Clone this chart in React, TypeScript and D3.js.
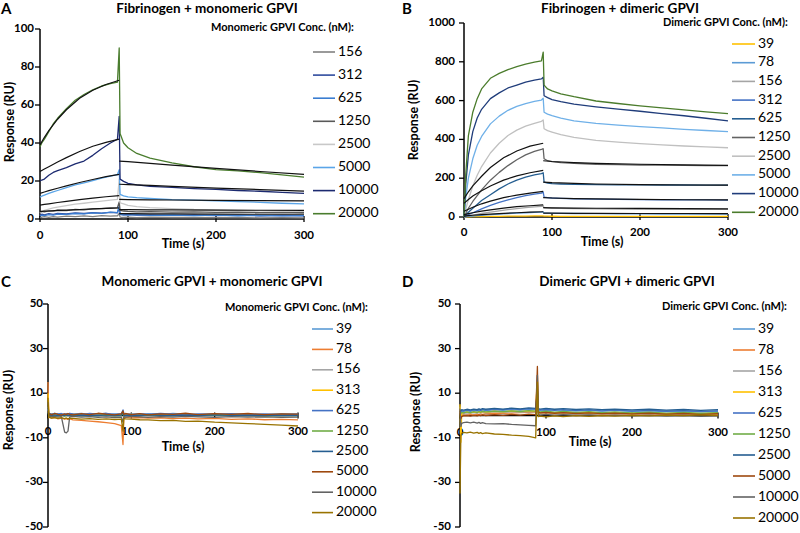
import React from "react";
import * as d3 from "d3";

// ---------- shared time grids (s) ----------
const TA = [0, 2, 5, 10, 15, 20, 30, 40, 50, 60, 70, 80, 88, 90, 91, 95, 100, 110, 125, 150, 175, 200, 225, 250, 275, 300];
const TFa = [0, 5, 10, 20, 30, 45, 60, 75, 90];
const TFd = [90, 100, 125, 150, 200, 250, 300];
const T2 = [0, 1, 2, 4, 8, 12, 16, 20, 22, 24, 26, 30, 40, 50, 60, 70, 80, 88, 90, 91, 93, 100, 110, 120, 135, 150, 165, 180, 200, 220, 240, 260, 280, 300];
const xTicks = [0, 100, 200, 300];

// ---------- Panel A: Fibrinogen + monomeric GPVI ----------
const concA = ["156", "312", "625", "1250", "2500", "5000", "10000", "20000"];
const colA = ["#808080", "#2f4b9e", "#3a7dd1", "#595959", "#c8c8c8", "#5aa5e8", "#1c2a70", "#4a7d2e"];
const a156 = [0.5, 1, 1.2, 0.8, 1.3, 1, 1.5, 1.2, 1.6, 1.3, 1.8, 1.5, 1.7, 3, 1, 0.8, 1, 0.7, 1, 0.8, 0.9, 0.7, 0.8, 0.6, 0.7, 0.6];
const a312 = [2, 2.5, 2.2, 2.8, 2.4, 3, 2.7, 3.2, 2.9, 3.4, 3.1, 3.5, 3.3, 6, 2.5, 2.2, 2.4, 2, 2.2, 1.9, 2.1, 1.8, 2, 1.7, 1.9, 1.7];
const a625 = [1.5, 2, 1.8, 2.3, 2, 2.6, 2.4, 2.9, 2.7, 3.2, 3, 3.6, 3.4, 7, 2.5, 2.2, 2, 2.3, 1.9, 2.1, 1.8, 2, 1.7, 1.9, 1.6, 1.8];
const a1250 = [3.5, 4, 3.8, 4.3, 4.1, 4.6, 4.4, 5, 4.8, 5.3, 5.5, 5.8, 6, 9, 4.5, 4.2, 4, 3.8, 3.9, 3.6, 3.7, 3.5, 3.6, 3.4, 3.5, 3.3];
const a2500 = [3, 4, 4.5, 5.2, 5.8, 6.3, 7, 7.8, 8.3, 8.9, 9.4, 9.9, 10.3, 21, 8.5, 8, 7.2, 6.5, 6, 5.5, 5, 4.8, 4.5, 4.3, 4.1, 4];
const a5000 = [11.5, 12, 12.6, 13.5, 14.3, 15, 16.5, 17.9, 19, 20.2, 21.5, 22.6, 23.4, 26, 13, 12.2, 11.6, 11.2, 10.8, 10.2, 9.9, 9.5, 9.1, 8.8, 8.3, 8];
const a10000 = [20, 20.5, 21, 23, 24.5, 25.5, 27, 29, 30.5, 33.5, 37, 40, 42, 54, 21, 19.8, 18.8, 18, 17.2, 16.6, 16, 15.6, 15, 14.6, 14, 13.5];
const a20000 = [38, 40, 42, 46, 50, 53, 58, 62.5, 65.5, 68, 70, 71.2, 72, 90, 45, 40, 37.5, 34.5, 32, 29.5, 27.5, 26, 25.3, 24.4, 23.2, 22];
const fitA_assoc = [
  [39, 43, 46.5, 52.5, 57.5, 63.5, 67.8, 70.8, 73],
  [25, 26.3, 27.5, 30, 32.3, 35.5, 38.3, 40.3, 42],
  [13.5, 14.2, 14.9, 16.2, 17.4, 19.2, 20.8, 22.3, 23.5],
  [7.3, 7.7, 8, 8.7, 9.3, 10.2, 11, 11.7, 12.3],
  [3.9, 4.1, 4.2, 4.5, 4.7, 5, 5.3, 5.6, 5.8],
];
const fitA_dissoc = [
  [30.5, 30.2, 29.3, 28.4, 26.6, 25, 23.5],
  [18.3, 18.1, 17.7, 17.2, 16.3, 15.5, 14.7],
  [10.3, 10.2, 10.1, 10, 9.8, 9.7, 9.5],
  [4.9, 4.9, 4.8, 4.8, 4.7, 4.6, 4.5],
  [2.8, 2.8, 2.7, 2.7, 2.6, 2.5, 2.5],
];

// ---------- Panel B: Fibrinogen + dimeric GPVI ----------
const concB = ["39", "78", "156", "312", "625", "1250", "2500", "5000", "10000", "20000"];
const colB = ["#ffc000", "#5b9bd5", "#a5a5a5", "#4472c4", "#255e91", "#636363", "#c0c0c0", "#6fb0e8", "#1f3c7a", "#4b7c2c"];
const b39 = [0, 0.5, 1, 1.5, 2, 2.5, 3, 3.5, 4, 4.5, 5, 5.3, 5.5, 6, 4, 4, 3.8, 3.7, 3.6, 3.5, 3.4, 3.3, 3.3, 3.2, 3.2, 3.1];
const b78 = [0, 1, 3, 5, 7, 9, 12, 15, 18, 20, 22, 24, 25, 27, 20, 19.5, 19, 18.5, 18, 17, 16.5, 16, 15.5, 15.2, 15, 14.8];
const b156 = [0, 3, 6, 10, 14, 18, 25, 32, 38, 43, 48, 52, 55, 58, 47, 46, 45, 44, 43, 42, 41, 40, 40, 39, 39, 39];
const b312 = [0, 5, 12, 22, 32, 42, 60, 75, 88, 100, 110, 118, 123, 128, 102, 100, 98, 96, 94, 92, 91, 90, 89, 88, 88, 87];
const b625 = [0, 10, 25, 45, 65, 85, 115, 145, 170, 190, 205, 217, 224, 228, 180, 175, 172, 170, 168, 167, 166, 166, 165, 165, 164, 164];
const b1250 = [0, 20, 45, 80, 110, 140, 190, 230, 265, 295, 320, 338, 348, 352, 300, 290, 285, 280, 277, 272, 270, 268, 267, 266, 265, 265];
const b2500 = [0, 40, 90, 160, 215, 260, 330, 380, 420, 448, 468, 483, 493, 500, 455, 445, 438, 425, 410, 395, 386, 378, 372, 366, 361, 357];
const b5000 = [0, 100, 200, 300, 370, 415, 480, 520, 550, 570, 585, 596, 603, 612, 540, 530, 522, 510, 496, 483, 474, 466, 459, 452, 446, 440];
const b10000 = [0, 170, 320, 440, 510, 555, 610, 640, 665, 680, 695, 705, 712, 720, 625, 615, 605, 595, 582, 568, 556, 545, 533, 522, 509, 496];
const b20000 = [0, 220, 420, 540, 610, 660, 715, 740, 760, 775, 788, 798, 805, 850, 680, 660, 650, 635, 620, 598, 585, 573, 562, 552, 542, 533];
const fitB_assoc = [
  [95, 130, 160, 210, 255, 305, 340, 365, 380],
  [70, 90, 108, 135, 160, 190, 212, 228, 240],
  [30, 40, 50, 68, 82, 100, 113, 123, 132],
  [12, 17, 22, 30, 37, 46, 53, 58, 62],
  [5, 7, 9, 12, 15, 19, 22, 25, 27],
];
const fitB_dissoc = [
  [290, 286, 280, 276, 272, 269, 266],
  [180, 177, 173, 170, 167, 165, 164],
  [100, 98, 95, 93, 91, 89, 88],
  [48, 47, 46, 45, 44, 43, 42],
  [20, 20, 19, 19, 18, 18, 17],
];

// ---------- Panels C & D (Excel palette) ----------
const concCD = ["39", "78", "156", "313", "625", "1250", "2500", "5000", "10000", "20000"];
const colCD = ["#5b9bd5", "#ed7d31", "#a5a5a5", "#ffc000", "#4472c4", "#70ad47", "#255e91", "#9e480e", "#636363", "#997300"];
const c39 = [4, 1, 0.5, 0.8, 0.3, 0.9, 0.4, 0.7, 0.5, 0.8, 0.4, 0.6, 0.9, 0.5, 0.8, 0.4, 0.7, 0.5, 2, 0.8, 0.5, 0.7, 0.4, 0.8, 0.5, 0.9, 0.6, 0.4, 0.8, 0.5, 0.7, 0.4, 0.8, 0.6];
const c78 = [15, -1, -0.8, -1.2, -0.9, -1.5, -1.2, -1.6, -1.4, -1.8, -1.5, -2, -2.2, -2.5, -2.8, -3.2, -3.6, -4.5, -13, -1, -0.8, -1.1, -0.9, -1.2, -1, -1.4, -1.2, -1.5, -1.3, -1.7, -1.5, -1.9, -1.7, -2];
const c156 = [3, 0.2, 0.4, 0.1, 0.5, 0.2, 0.6, 0.3, 0.1, 0.4, 0.2, 0.5, 0.3, 0.6, 0.2, 0.5, 0.3, 0.4, 1.5, 0.3, 0.1, 0.4, 0.2, 0.5, 0.3, 0.1, 0.4, 0.2, 0.5, 0.3, 0.1, 0.4, 0.2, 0.3];
const c313 = [10, 0.5, 0.2, 0.6, 0.3, 0.1, 0.5, 0.2, 0.4, 0.1, 0.3, 0.6, 0.2, 0.4, 0.1, 0.5, 0.3, 0.2, 2, 0.4, 0.2, 0.5, 0.1, 0.3, 0.6, 0.2, 0.4, 0.1, 0.5, 0.3, 0.2, 0.4, 0.1, 0.3];
const c625 = [3, 0.6, 0.9, 0.5, 1, 0.6, 0.9, 0.4, 0.8, 0.5, 1, 0.7, 0.4, 0.9, 0.6, 1, 0.5, 0.8, 2.5, 0.9, 0.6, 0.4, 0.8, 0.5, 0.9, 0.6, 0.3, 0.7, 0.5, 0.8, 0.4, 0.7, 0.3, 0.6];
const c1250 = [2, -0.3, 0, -0.4, 0.1, -0.2, 0.2, -0.3, 0, -0.1, 0.2, -0.2, 0.1, -0.3, 0, 0.2, -0.2, 0, 1, -0.1, 0.1, -0.2, 0, 0.2, -0.1, 0.1, -0.2, 0, 0.2, -0.1, 0.1, -0.3, 0, -0.1];
const c2500 = [2, -0.2, 0.2, 0, 0.3, -0.1, 0.2, 0, 0.3, -0.1, 0.1, 0.3, 0, 0.2, -0.1, 0.3, 0, 0.2, 1.5, 0.1, -0.1, 0.2, 0, 0.3, 0.1, -0.1, 0.2, 0, 0.3, 0.1, 0, 0.2, -0.1, 0.1];
const c5000 = [2, 0.4, 0.8, 0.3, 0.9, 0.5, 0.2, 0.7, 0.4, 0.9, 0.5, 0.3, 0.8, 0.4, 1, 0.6, 0.3, 0.7, 2, 0.5, 0.9, 0.4, 0.8, 0.3, 0.7, 0.5, 1, 0.4, 0.8, 0.5, 0.9, 0.4, 0.7, 0.6];
const c10000 = [6, -0.5, -0.3, -0.6, -0.4, -0.7, -0.5, -7.5, -7.8, -7, -0.6, -0.4, -0.7, -0.5, -0.8, -0.6, -0.9, -0.7, -3, -0.5, -0.7, -0.4, -0.6, -0.8, -0.5, -0.7, -0.4, -0.6, -0.8, -0.5, -0.7, -0.6, -0.8, -0.7];
const c20000 = [8, -1, -0.8, -1.2, -0.9, -1.3, -1, -1.4, -1.1, -1.5, -1.2, -1.3, -1.6, -1.4, -1.7, -1.5, -1.8, -1.6, -7, -1.3, -1.5, -1.6, -1.9, -2, -2.3, -2.2, -2.6, -2.5, -3, -3.3, -3.6, -4, -4.3, -4.7];

const d39 = [4, 1.5, 2, 1.8, 2.2, 1.9, 2.3, 2, 2.4, 2.1, 2.5, 2.2, 2.6, 2.3, 2.7, 2.4, 2.8, 2.6, 8, 2.3, 2.5, 2.2, 2.6, 2.3, 2.1, 2.4, 2, 2.3, 1.9, 2.1, 1.8, 2, 1.7, 1.9];
const d78 = [3, -1, 0, 0.3, 0.1, 0.5, 0.2, 0.6, 0.4, 0.7, 0.5, 0.8, 0.9, 1, 1.1, 1.3, 1.4, 1.5, 18, 1.2, 1, 1.2, 0.9, 1.1, 0.8, 1, 0.7, 0.9, 0.6, 0.8, 0.5, 0.7, 0.4, 0.6];
const d156 = [2, 0.5, 1, 0.8, 1.2, 0.9, 1.3, 1, 1.4, 1.1, 1.5, 1.2, 1.6, 1.3, 1.7, 1.4, 1.8, 1.6, 12, 1.3, 1.1, 1.4, 1, 1.3, 0.9, 1.2, 0.8, 1.1, 0.7, 1, 0.6, 0.9, 0.5, 0.8];
const d313 = [5, -12, 1, 1.3, 1.5, 1.2, 1.6, 1.3, 1.7, 1.4, 1.8, 1.5, 1.9, 1.6, 2, 1.7, 2.1, 1.8, 16, 1.5, 1.3, 1.6, 1.2, 1.5, 1.1, 1.4, 1, 1.3, 0.9, 1.2, 0.8, 1.1, 0.7, 1];
const d625 = [2, 1.8, 2.2, 2, 2.4, 2.1, 2.5, 2.2, 2.6, 2.3, 2.7, 2.4, 2.8, 2.6, 3, 2.7, 3.1, 2.9, 10, 2.6, 2.4, 2.7, 2.3, 2.6, 2.2, 2.5, 2.1, 2.4, 2, 2.3, 1.9, 2.2, 1.8, 2.1];
const d1250 = [2, 1, 1.4, 1.2, 1.6, 1.3, 1.7, 1.4, 1.8, 1.5, 1.9, 1.6, 2, 1.7, 2.1, 1.8, 2.2, 2, 9, 1.8, 1.6, 1.9, 1.5, 1.8, 1.4, 1.7, 1.3, 1.6, 1.2, 1.5, 1.1, 1.4, 1, 1.3];
const d2500 = [2, 2.2, 2.6, 2.4, 2.8, 2.5, 2.9, 2.6, 3, 2.7, 3.1, 2.8, 3.2, 2.9, 3.3, 3, 3.4, 3.2, 11, 3.1, 2.9, 3.2, 2.8, 3.1, 2.7, 3, 2.6, 2.9, 2.5, 2.8, 2.4, 2.7, 2.3, 2.6];
const d5000 = [2, -1.5, -0.5, -0.2, 0, -0.3, 0.1, -0.2, 0.2, -0.1, 0.3, 0, 0.4, 0.1, 0.5, 0.2, 0.6, 0.4, 22, 1.5, 1.2, 1.4, 1, 1.3, 0.9, 1.2, 0.8, 1.1, 0.7, 1, 0.6, 0.9, 0.5, 0.8];
const d10000 = [3, -5, -3.5, -3.2, -3, -3.3, -3, -3.4, -3.1, -3.5, -3.2, -3.6, -3.8, -3.6, -4, -4.2, -4.4, -4.6, 18, 0.5, 0.2, 0.5, 0.1, 0.4, 0, 0.3, -0.1, 0.2, -0.2, 0.1, -0.3, 0, -0.4, -0.2];
const d20000 = [-35, -9, -8, -7.6, -7.8, -7.5, -7.9, -7.6, -8, -7.7, -8.1, -7.8, -8.3, -8.5, -8.8, -9, -9.4, -10, 15, -0.5, -0.3, -0.6, -0.2, -0.5, -0.1, -0.4, 0, -0.3, 0.1, -0.2, 0.2, -0.1, 0.3, 0];

const FONT = "Lato, 'Open Sans', sans-serif";

type PanelCfg = {
  letter: string; letterX: number; letterY: number;
  title: string; titleX: number; titleY: number;
  x0: number; x1: number; yBottom: number; yTop: number;
  yDomain: [number, number]; yTicks: number[]; yLabelX: number;
  xLabelY: number; xTitleX: number; xTitleY: number;
  yTitleX: number; yTitleCY: number;
  times: number[]; data: number[][]; colors: string[]; conc: string[];
  fitsA: number[][]; fitsD: number[][];
  legTitle: string; legTitleX: number; legTitleY: number;
  legL0: number; legL1: number; legLabelX: number; legY0: number; legDy: number;
};

const panels: PanelCfg[] = [
  {
    letter: "A", letterX: 1, letterY: 10, title: "Fibrinogen + monomeric GPVI", titleX: 207, titleY: 10,
    x0: 40, x1: 304, yBottom: 219, yTop: 29, yDomain: [0, 100], yTicks: [0, 20, 40, 60, 80, 100], yLabelX: 34,
    xLabelY: 236, xTitleX: 183, xTitleY: 245, yTitleX: 11, yTitleCY: 122,
    times: TA, data: [a156, a312, a625, a1250, a2500, a5000, a10000, a20000], colors: colA, conc: concA,
    fitsA: fitA_assoc, fitsD: fitA_dissoc,
    legTitle: "Monomeric GPVI Conc. (nM):", legTitleX: 211, legTitleY: 28,
    legL0: 313, legL1: 335, legLabelX: 338, legY0: 52, legDy: 23.1,
  },
  {
    letter: "B", letterX: 402, letterY: 10, title: "Fibrinogen + dimeric GPVI", titleX: 620, titleY: 10,
    x0: 464, x1: 728, yBottom: 217, yTop: 23, yDomain: [0, 1000], yTicks: [0, 200, 400, 600, 800, 1000], yLabelX: 455,
    xLabelY: 233, xTitleX: 602, xTitleY: 243, yTitleX: 415, yTitleCY: 120,
    times: TA, data: [b39, b78, b156, b312, b625, b1250, b2500, b5000, b10000, b20000], colors: colB, conc: concB,
    fitsA: fitB_assoc, fitsD: fitB_dissoc,
    legTitle: "Dimeric GPVI Conc. (nM):", legTitleX: 663, legTitleY: 23,
    legL0: 732, legL1: 755, legLabelX: 758, legY0: 44, legDy: 18.7,
  },
  {
    letter: "C", letterX: 1, letterY: 283, title: "Monomeric GPVI + monomeric GPVI", titleX: 212, titleY: 283,
    x0: 48, x1: 298, yBottom: 527, yTop: 304, yDomain: [-50, 50], yTicks: [-50, -30, -10, 10, 30, 50], yLabelX: 43,
    xLabelY: 432, xTitleX: 183, xTitleY: 448, yTitleX: 10, yTitleCY: 410,
    times: T2, data: [c39, c78, c156, c313, c625, c1250, c2500, c5000, c10000, c20000], colors: colCD, conc: concCD,
    fitsA: [], fitsD: [],
    legTitle: "Monomeric GPVI Conc. (nM):", legTitleX: 225, legTitleY: 308,
    legL0: 312, legL1: 333, legLabelX: 336, legY0: 329, legDy: 20.4,
  },
  {
    letter: "D", letterX: 402, letterY: 283, title: "Dimeric GPVI + dimeric GPVI", titleX: 627, titleY: 283,
    x0: 460, x1: 718, yBottom: 527, yTop: 304, yDomain: [-50, 50], yTicks: [-50, -30, -10, 10, 30, 50], yLabelX: 451,
    xLabelY: 433, xTitleX: 590, xTitleY: 443, yTitleX: 417, yTitleCY: 412,
    times: T2, data: [d39, d78, d156, d313, d625, d1250, d2500, d5000, d10000, d20000], colors: colCD, conc: concCD,
    fitsA: [], fitsD: [],
    legTitle: "Dimeric GPVI Conc. (nM):", legTitleX: 662, legTitleY: 307,
    legL0: 733, legL1: 755, legLabelX: 758, legY0: 329, legDy: 21,
  },
];

function Panel({ p }: { p: PanelCfg }) {
  const x = d3.scaleLinear().domain([0, 300]).range([p.x0, p.x1]);
  const y = d3.scaleLinear().domain(p.yDomain).range([p.yBottom, p.yTop]);
  const mk = (ts: number[]) =>
    d3.line<number>().x((_, i) => x(ts[i])).y((v) => y(v));
  const y0 = y(0);
  return (
    <g fontFamily={FONT}>
      <text x={p.letterX} y={p.letterY} dominantBaseline="middle" fontSize={15} fontWeight="bold">{p.letter}</text>
      <text x={p.titleX} y={p.titleY} dominantBaseline="middle" textAnchor="middle" fontSize={13.5} fontWeight="bold">{p.title}</text>
      {/* axes */}
      <line x1={p.x0} x2={p.x0} y1={p.yTop} y2={p.yBottom} stroke="#000" strokeWidth={1.5} />
      <line x1={p.x0} x2={p.x1} y1={y0} y2={y0} stroke="#000" strokeWidth={1.5} />
      {p.yTicks.map((t) => (
        <g key={"y" + t}>
          <line x1={p.x0 - 5} x2={p.x0} y1={y(t)} y2={y(t)} stroke="#000" strokeWidth={1.3} />
          <text x={p.yLabelX} y={y(t)} textAnchor="end" dominantBaseline="middle" fontSize={11.5} fontWeight="bold">{t}</text>
        </g>
      ))}
      {xTicks.map((t) => (
        <g key={"x" + t}>
          <line x1={x(t)} x2={x(t)} y1={y0 - 3} y2={y0 + 3} stroke="#000" strokeWidth={1.3} />
          <text x={x(t)} y={p.xLabelY} textAnchor="middle" dominantBaseline="middle" fontSize={11.5} fontWeight="bold">{t}</text>
        </g>
      ))}
      <text x={p.xTitleX} y={p.xTitleY} textAnchor="middle" dominantBaseline="middle" fontSize={12.5} fontWeight="bold">Time (s)</text>
      <text transform={`translate(${p.yTitleX},${p.yTitleCY}) rotate(-90)`} textAnchor="middle" dominantBaseline="middle" fontSize={12.5} fontWeight="bold">Response (RU)</text>
      {/* data */}
      {p.data.map((d, i) => (
        <path key={"d" + i} d={mk(p.times)(d) || ""} fill="none" stroke={p.colors[i]} strokeWidth={1.3} strokeLinejoin="round" />
      ))}
      {p.fitsA.map((d, i) => (
        <path key={"fa" + i} d={mk(TFa)(d) || ""} fill="none" stroke="#111" strokeWidth={1.2} />
      ))}
      {p.fitsD.map((d, i) => (
        <path key={"fd" + i} d={mk(TFd)(d) || ""} fill="none" stroke="#111" strokeWidth={1.2} />
      ))}
      {/* legend */}
      <text x={p.legTitleX} y={p.legTitleY} dominantBaseline="middle" fontSize={11} fontWeight="bold">{p.legTitle}</text>
      {p.conc.map((c, i) => {
        const ly = p.legY0 + i * p.legDy;
        return (
          <g key={"l" + c}>
            <line x1={p.legL0} x2={p.legL1} y1={ly} y2={ly} stroke={p.colors[i]} strokeWidth={1.6} />
            <text x={p.legLabelX} y={ly} dominantBaseline="middle" fontSize={14}>{c}</text>
          </g>
        );
      })}
    </g>
  );
}

export default function App() {
  return (
    <svg width={800} height={533} style={{ position: "absolute", left: 0, top: 0, background: "#fff" }}>
      <rect width={800} height={533} fill="#fff" />
      {panels.map((p) => (
        <Panel key={p.letter} p={p} />
      ))}
    </svg>
  );
}
